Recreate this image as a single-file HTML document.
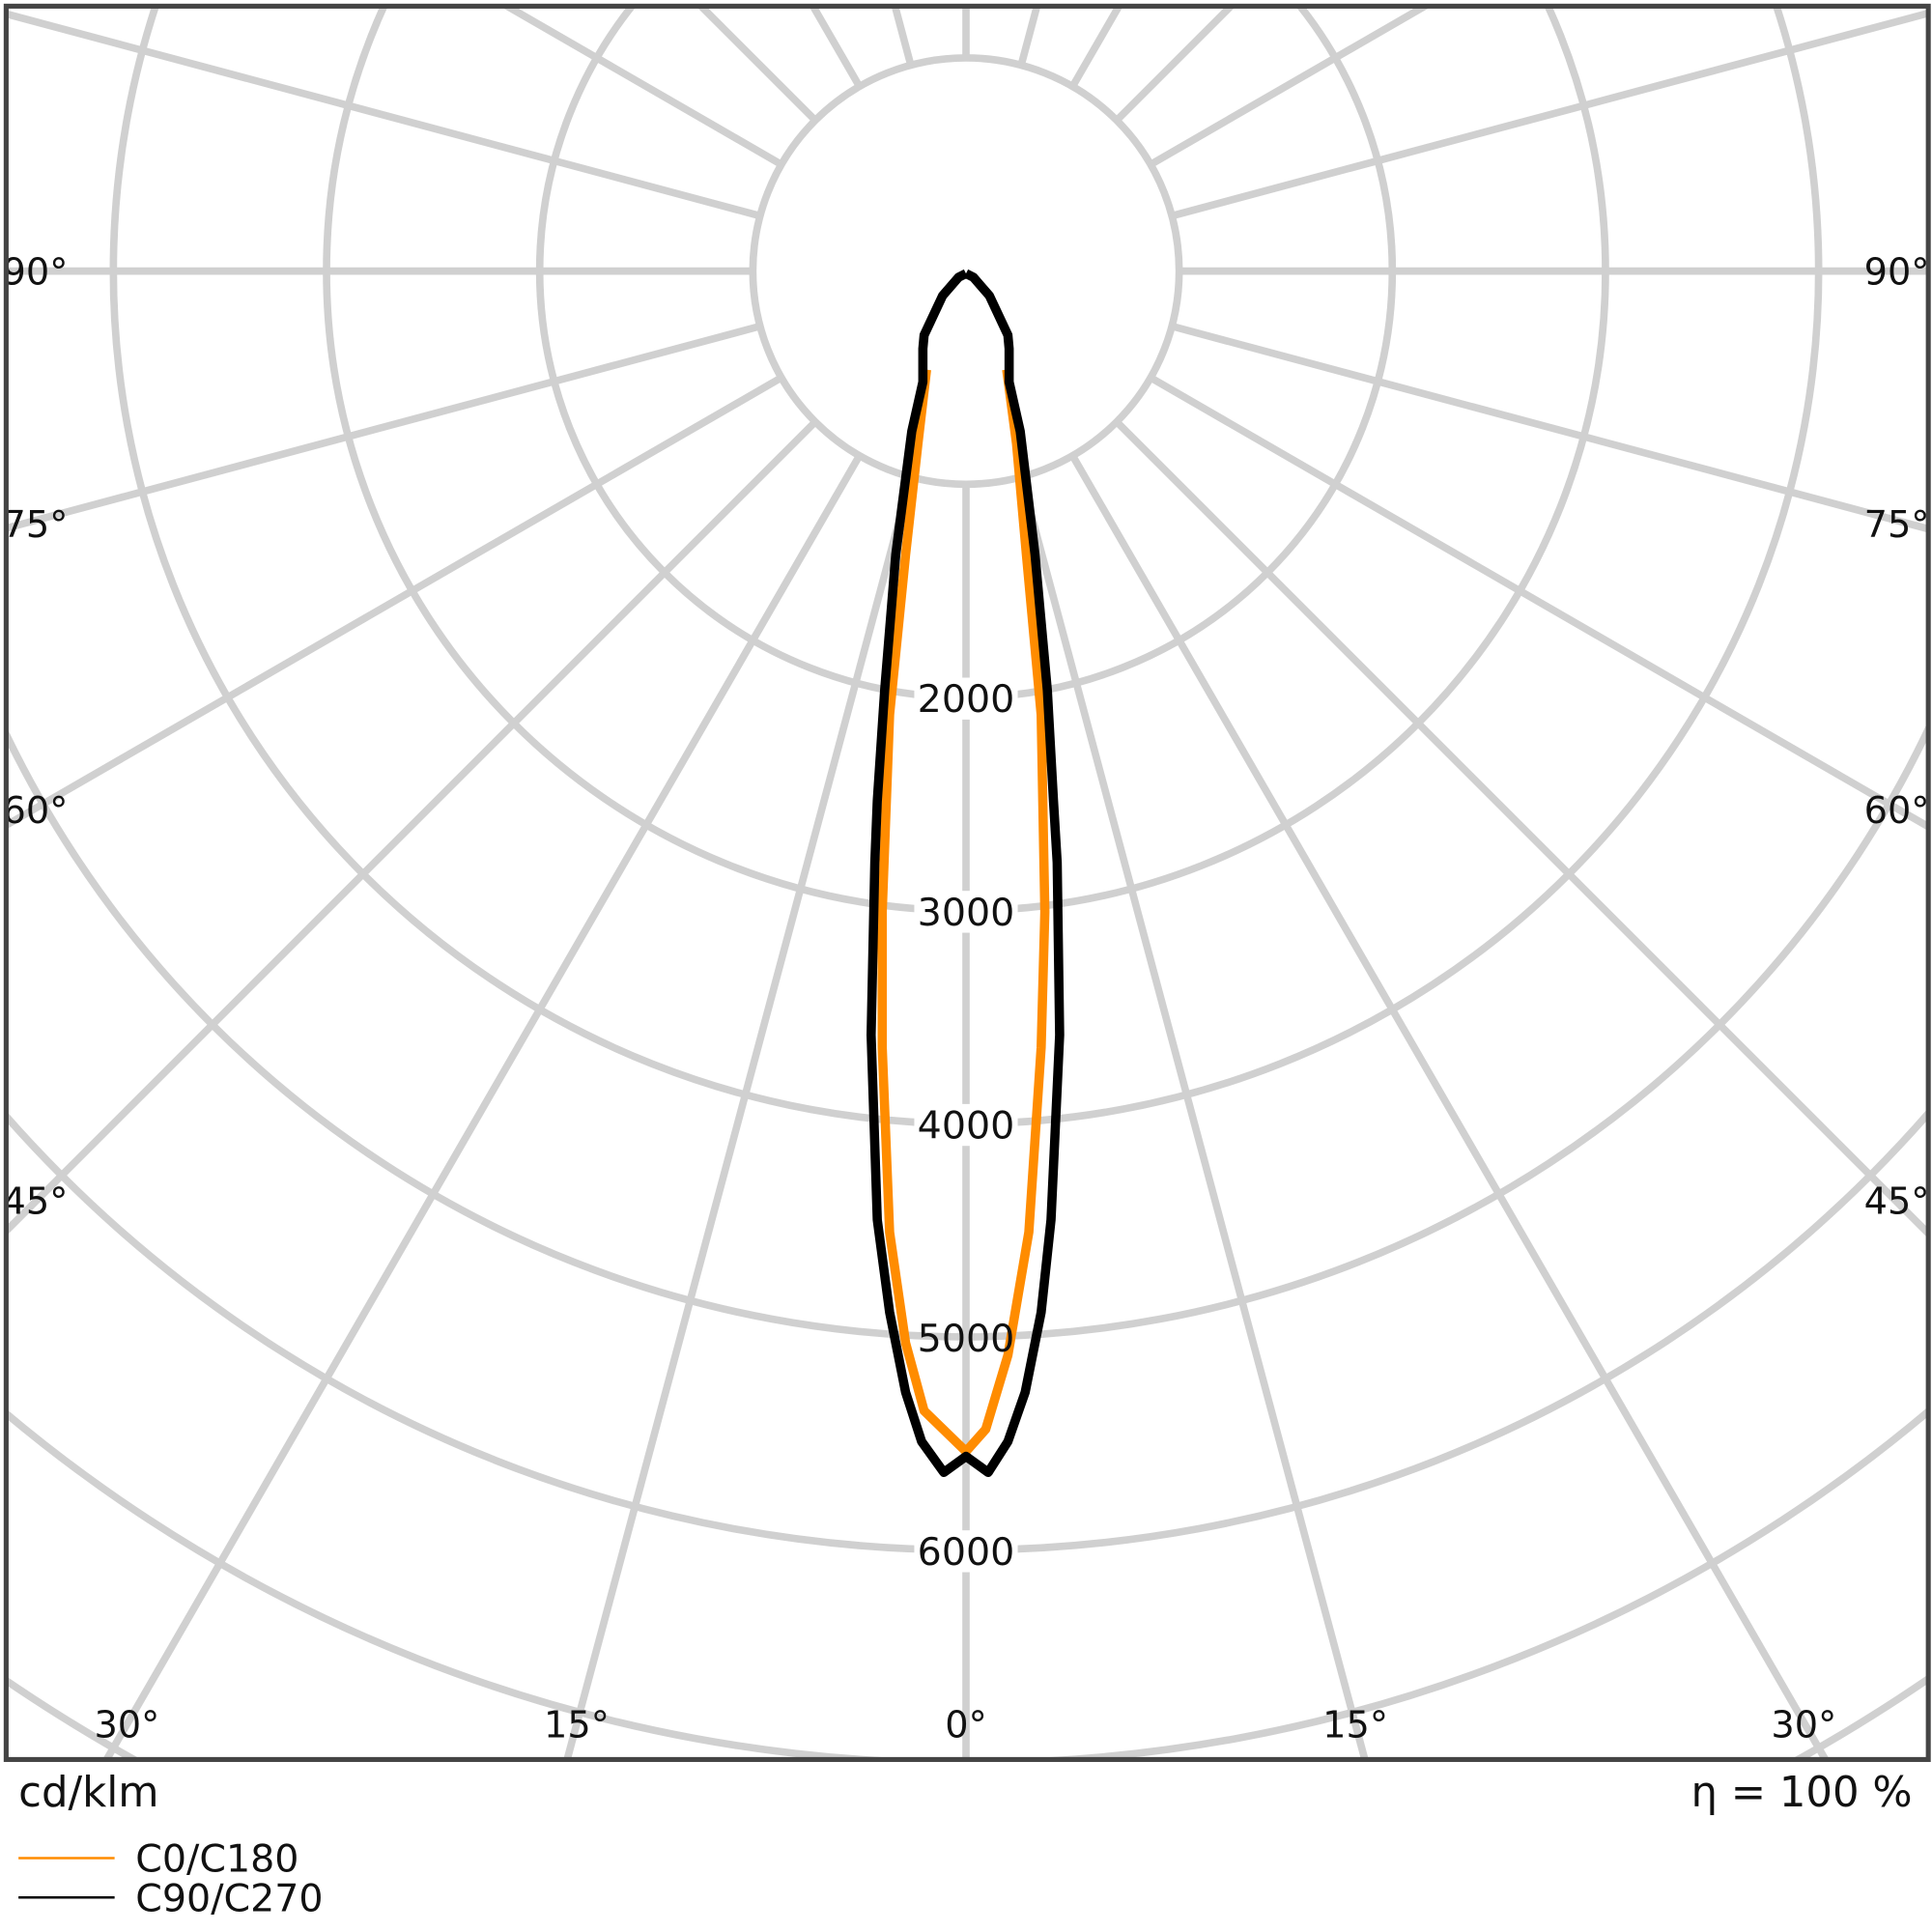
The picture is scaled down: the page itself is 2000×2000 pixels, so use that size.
<!DOCTYPE html>
<html><head><meta charset="utf-8"><style>
html,body{margin:0;padding:0;background:#fff;width:2000px;height:2000px;overflow:hidden;}
svg{display:block;}
text{font-family:"DejaVu Sans","Liberation Sans",sans-serif;}
</style></head><body>
<svg width="2000" height="2000" viewBox="0 0 1568 1568" xmlns="http://www.w3.org/2000/svg">
<defs><clipPath id="c"><rect x="5" y="5" width="1560" height="1423"/></clipPath></defs>
<rect width="1568" height="1568" fill="#fff"/>
<g clip-path="url(#c)" stroke="#d0d0d0" stroke-width="6" fill="none">
<circle cx="784" cy="220" r="173"/><circle cx="784" cy="220" r="346"/><circle cx="784" cy="220" r="519"/>
<circle cx="784" cy="220" r="692"/><circle cx="784" cy="220" r="865"/><circle cx="784" cy="220" r="1038"/>
<circle cx="784" cy="220" r="1211"/><circle cx="784" cy="220" r="1384"/><circle cx="784" cy="220" r="1557"/>
<g>
<line x1="784" y1="393" x2="784" y2="2000"/>
<line x1="784" y1="393" x2="784" y2="2000" transform="rotate(15 784 220)"/>
<line x1="784" y1="393" x2="784" y2="2000" transform="rotate(30 784 220)"/>
<line x1="784" y1="393" x2="784" y2="2000" transform="rotate(45 784 220)"/>
<line x1="784" y1="393" x2="784" y2="2000" transform="rotate(60 784 220)"/>
<line x1="784" y1="393" x2="784" y2="2000" transform="rotate(75 784 220)"/>
<line x1="784" y1="393" x2="784" y2="2000" transform="rotate(90 784 220)"/>
<line x1="784" y1="393" x2="784" y2="2000" transform="rotate(105 784 220)"/>
<line x1="784" y1="393" x2="784" y2="2000" transform="rotate(120 784 220)"/>
<line x1="784" y1="393" x2="784" y2="2000" transform="rotate(135 784 220)"/>
<line x1="784" y1="393" x2="784" y2="2000" transform="rotate(150 784 220)"/>
<line x1="784" y1="393" x2="784" y2="2000" transform="rotate(165 784 220)"/>
<line x1="784" y1="393" x2="784" y2="2000" transform="rotate(180 784 220)"/>
<line x1="784" y1="393" x2="784" y2="2000" transform="rotate(-15 784 220)"/>
<line x1="784" y1="393" x2="784" y2="2000" transform="rotate(-30 784 220)"/>
<line x1="784" y1="393" x2="784" y2="2000" transform="rotate(-45 784 220)"/>
<line x1="784" y1="393" x2="784" y2="2000" transform="rotate(-60 784 220)"/>
<line x1="784" y1="393" x2="784" y2="2000" transform="rotate(-75 784 220)"/>
<line x1="784" y1="393" x2="784" y2="2000" transform="rotate(-90 784 220)"/>
<line x1="784" y1="393" x2="784" y2="2000" transform="rotate(-105 784 220)"/>
<line x1="784" y1="393" x2="784" y2="2000" transform="rotate(-120 784 220)"/>
<line x1="784" y1="393" x2="784" y2="2000" transform="rotate(-135 784 220)"/>
<line x1="784" y1="393" x2="784" y2="2000" transform="rotate(-150 784 220)"/>
<line x1="784" y1="393" x2="784" y2="2000" transform="rotate(-165 784 220)"/>
</g>
</g>
<g font-size="31" fill="#111" text-anchor="middle">
<rect x="742" y="550" width="84" height="34" fill="#fff"/><text x="784" y="578">2000</text>
<rect x="742" y="723" width="84" height="34" fill="#fff"/><text x="784" y="751">3000</text>
<rect x="742" y="896" width="84" height="34" fill="#fff"/><text x="784" y="924">4000</text>
<rect x="742" y="1242" width="84" height="34" fill="#fff"/><text x="784" y="1270">6000</text>
</g>
<g clip-path="url(#c)" fill="none" stroke-linejoin="round">
<polyline stroke="#ff8c00" stroke-width="7.5" points="752,300 745,360 735,450 722,580 716,740 716,850 722,1000 735,1090 750,1145 784,1178 800,1160 818,1100 835,1000 845,850 848,740 845,580 833,450 825,360 817,300"/>
<polyline stroke="#000" stroke-width="7.5" points="784,222 778,225 765,240 750,272 749,283 749,310 740,350 727,450 718,560 712,650 710,700 707,840 712,990 722,1065 735,1130 748,1170 766,1195 784,1182 802,1195 818,1170 832,1130 845,1065 853,990 860,840 858,700 855,650 850,560 840,450 828,350 819,310 819,283 818,272 803,240 790,225 784,222"/>
</g>
<text x="784" y="1097" font-size="31" fill="#111" text-anchor="middle">5000</text>
<g font-size="30" fill="#111">
<text x="2" y="231">90°</text><text x="2" y="436">75°</text><text x="2" y="668">60°</text><text x="2" y="985">45°</text>
<text x="1566" y="231" text-anchor="end">90°</text><text x="1566" y="436" text-anchor="end">75°</text><text x="1566" y="668" text-anchor="end">60°</text><text x="1566" y="985" text-anchor="end">45°</text>
<text x="103" y="1410" text-anchor="middle">30°</text><text x="468" y="1410" text-anchor="middle">15°</text><text x="784" y="1410" text-anchor="middle">0°</text><text x="1100" y="1410" text-anchor="middle">15°</text><text x="1464" y="1410" text-anchor="middle">30°</text>
</g>
<rect x="5" y="5" width="1560" height="1423" fill="none" stroke="#444" stroke-width="4"/>
<text x="15" y="1466" font-size="34" fill="#111">cd/klm</text>
<text x="1552" y="1466" font-size="34" fill="#111" text-anchor="end">η = 100 %</text>
<line x1="15" y1="1508" x2="93" y2="1508" stroke="#ff8c00" stroke-width="2"/>
<line x1="15" y1="1540" x2="93" y2="1540" stroke="#000" stroke-width="2"/>
<text x="110" y="1519" font-size="31" fill="#111">C0/C180</text>
<text x="110" y="1551" font-size="31" fill="#111">C90/C270</text>
</svg>
</body></html>
